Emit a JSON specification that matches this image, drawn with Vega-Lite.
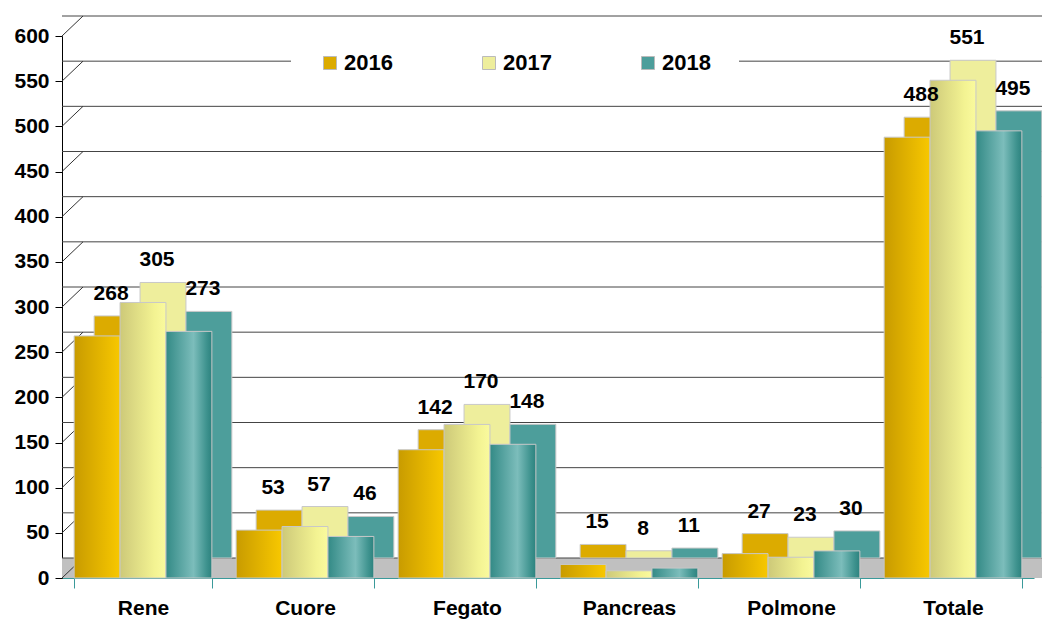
{
  "$schema": "https://vega.github.io/schema/vega-lite/v6.json",
  "width": 972,
  "height": 542,
  "autosize": {"type": "none"},
  "padding": {"left": 62, "top": 36, "right": 8, "bottom": 41},
  "background": "white",
  "datasets": {
    "organs": [
      {"organo": "Rene", "anno": "2016", "valore": 268},
      {"organo": "Rene", "anno": "2017", "valore": 305},
      {"organo": "Rene", "anno": "2018", "valore": 273},
      {"organo": "Cuore", "anno": "2016", "valore": 53},
      {"organo": "Cuore", "anno": "2017", "valore": 57},
      {"organo": "Cuore", "anno": "2018", "valore": 46},
      {"organo": "Fegato", "anno": "2016", "valore": 142},
      {"organo": "Fegato", "anno": "2017", "valore": 170},
      {"organo": "Fegato", "anno": "2018", "valore": 148},
      {"organo": "Pancreas", "anno": "2016", "valore": 15},
      {"organo": "Pancreas", "anno": "2017", "valore": 8},
      {"organo": "Pancreas", "anno": "2018", "valore": 11},
      {"organo": "Polmone", "anno": "2016", "valore": 27},
      {"organo": "Polmone", "anno": "2017", "valore": 23},
      {"organo": "Polmone", "anno": "2018", "valore": 30},
      {"organo": "Totale", "anno": "2016", "valore": 488},
      {"organo": "Totale", "anno": "2017", "valore": 551},
      {"organo": "Totale", "anno": "2018", "valore": 495}
    ],
    "grid": [
      {"v": 0}, {"v": 50}, {"v": 100}, {"v": 150}, {"v": 200}, {"v": 250}, {"v": 300},
      {"v": 350}, {"v": 400}, {"v": 450}, {"v": 500}, {"v": 550}, {"v": 600}
    ]
  },
  "resolve": {"scale": {"xOffset": "independent"}},
  "layer": [
    {
      "data": {"name": "grid"},
      "transform": [{"filter": "datum.v == 0"}],
      "mark": {"type": "rect", "color": "#c0c0c0", "y2Offset": -20, "xOffset": 10, "x2Offset": 10},
      "encoding": {
        "y": {"field": "v", "type": "quantitative", "scale": {"domain": [0, 600], "nice": false}, "axis": {
          "values": [0, 50, 100, 150, 200, 250, 300, 350, 400, 450, 500, 550, 600],
          "title": null, "grid": false, "domainColor": "#000000", "tickColor": "#000000",
          "tickSize": 7, "labelPadding": 6, "labelFont": "Liberation Sans", "labelFontWeight": "bold",
          "labelFontSize": 21, "labelColor": "#000000"
        }},
        "y2": {"field": "v"}
      }
    },
    {
      "data": {"name": "grid"},
      "mark": {"type": "rule", "color": "#444444", "strokeWidth": 1, "yOffset": -20, "xOffset": 21, "x2Offset": 21},
      "encoding": {
        "y": {"field": "v", "type": "quantitative"}
      }
    },
    {
      "data": {"name": "grid"},
      "mark": {"type": "rule", "color": "#333333", "strokeWidth": 1, "y2Offset": -20},
      "encoding": {
        "y": {"field": "v", "type": "quantitative"},
        "y2": {"field": "v"},
        "x": {"value": 0},
        "x2": {"value": 21}
      }
    },
    {
      "data": {"name": "organs"},
      "mark": {"type": "bar", "yOffset": -20, "y2Offset": -20, "stroke": "#c8c8c8", "strokeWidth": 1},
      "encoding": {
        "x": {"field": "organo", "type": "nominal", "sort": null,
          "scale": {"paddingInner": 0.15, "paddingOuter": 0.075},
          "axis": {"title": null, "labelAngle": 0, "domainColor": "#3a9a9a", "tickColor": "#3a9a9a",
            "tickSize": 10, "tickBand": "extent", "labelPadding": 9, "labelFont": "Liberation Sans",
            "labelFontWeight": "bold", "labelFontSize": 21, "labelColor": "#000000"}},
        "xOffset": {"field": "anno", "type": "nominal",
          "scale": {"domain": ["2016", "2017", "2018"], "range": [20, 157.7], "paddingInner": 0, "paddingOuter": 0}},
        "y": {"field": "valore", "type": "quantitative"},
        "color": {"field": "anno", "type": "nominal",
          "scale": {"domain": ["2016", "2017", "2018"], "range": ["#dcab00", "#eeee9c", "#4d9e9b"]},
          "legend": {"orient": "none", "legendX": 229, "legendY": -12, "direction": "horizontal",
            "title": null, "symbolType": "square", "symbolSize": 169, "symbolStrokeColor": "#bbbbbb",
            "symbolStrokeWidth": 1, "labelFont": "Liberation Sans", "labelFontWeight": "bold",
            "labelFontSize": 22, "labelColor": "#000000", "labelOffset": 3, "columnPadding": 85,
            "fillColor": "white", "padding": 28, "zindex": 1}}
      }
    },
    {
      "data": {"name": "organs"},
      "transform": [{"filter": "datum.anno == '2016'"}],
      "mark": {"type": "bar", "stroke": "#c8c8c8", "strokeWidth": 1,
        "fill": {"gradient": "linear", "x1": 0, "x2": 1, "y1": 0, "y2": 0,
          "stops": [{"offset": 0, "color": "#c89b00"}, {"offset": 1, "color": "#f8c800"}]}},
      "encoding": {
        "x": {"field": "organo", "type": "nominal", "sort": null},
        "xOffset": {"field": "anno", "type": "nominal",
          "scale": {"domain": ["2016", "2017", "2018"], "paddingInner": 0, "paddingOuter": 0}},
        "y": {"field": "valore", "type": "quantitative"}
      }
    },
    {
      "data": {"name": "organs"},
      "transform": [{"filter": "datum.anno == '2017'"}],
      "mark": {"type": "bar", "stroke": "#c8c8c8", "strokeWidth": 1,
        "fill": {"gradient": "linear", "x1": 0, "x2": 1, "y1": 0, "y2": 0,
          "stops": [{"offset": 0, "color": "#cdc979"}, {"offset": 0.75, "color": "#f3f392"}, {"offset": 1, "color": "#fafa9e"}]}},
      "encoding": {
        "x": {"field": "organo", "type": "nominal", "sort": null},
        "xOffset": {"field": "anno", "type": "nominal",
          "scale": {"domain": ["2016", "2017", "2018"], "paddingInner": 0, "paddingOuter": 0}},
        "y": {"field": "valore", "type": "quantitative"}
      }
    },
    {
      "data": {"name": "organs"},
      "transform": [{"filter": "datum.anno == '2018'"}],
      "mark": {"type": "bar", "stroke": "#c8c8c8", "strokeWidth": 1,
        "fill": {"gradient": "linear", "x1": 0, "x2": 1, "y1": 0, "y2": 0,
          "stops": [{"offset": 0, "color": "#338a86"}, {"offset": 0.6, "color": "#7cbdbb"}, {"offset": 0.88, "color": "#3f938f"}, {"offset": 1, "color": "#2c827e"}]}},
      "encoding": {
        "x": {"field": "organo", "type": "nominal", "sort": null},
        "xOffset": {"field": "anno", "type": "nominal",
          "scale": {"domain": ["2016", "2017", "2018"], "paddingInner": 0, "paddingOuter": 0}},
        "y": {"field": "valore", "type": "quantitative"}
      }
    },
    {
      "data": {"name": "organs"},
      "mark": {"type": "text", "font": "Liberation Sans", "fontWeight": "bold", "fontSize": 21,
        "color": "#000000", "align": "center", "baseline": "middle", "dx": 14, "dy": -42},
      "encoding": {
        "x": {"field": "organo", "type": "nominal", "sort": null},
        "xOffset": {"field": "anno", "type": "nominal",
          "scale": {"type": "band", "domain": ["2016", "2017", "2018"], "paddingInner": 0, "paddingOuter": 0}},
        "y": {"field": "valore", "type": "quantitative"},
        "text": {"field": "valore", "type": "quantitative"}
      }
    }
  ],
  "config": {"view": {"stroke": null}}
}
